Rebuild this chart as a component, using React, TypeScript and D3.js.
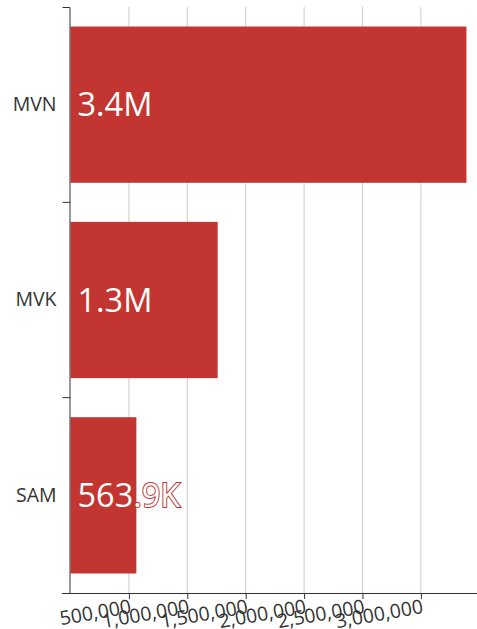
import React, { useEffect, useRef } from "react";
import * as d3 from "d3";

const categories = ["MVN", "MVK", "SAM"];
const values = [3390000, 1260000, 563900];
const xTicks = [500000, 1000000, 1500000, 2000000, 2500000, 3000000];

const BAR = "#c23531";
const INK = "#333";
const FONT = "'Open Sans', 'Noto Sans', sans-serif";

const fmtLabel = (v: number) =>
  v >= 1e6 ? (v / 1e6).toFixed(1) + "M" : (v / 1e3).toFixed(1) + "K";

export default function App() {
  const node = useRef<SVGSVGElement>(null);

  useEffect(() => {
    const svg = d3.select(node.current);
    svg.selectAll("*").remove();

    const left = 70.5, top = 7, bottom = 593;
    const x = d3.scaleLinear().domain([0, 3500000]).range([left, left + 3.5 * 116.8]);
    const y = d3.scaleBand().domain(categories).range([top, bottom]).paddingInner(0.2).paddingOuter(0.1);

    // grid
    svg.append("g")
      .selectAll("line")
      .data(xTicks)
      .join("line")
      .attr("x1", d => x(d)).attr("x2", d => x(d))
      .attr("y1", top).attr("y2", bottom)
      .attr("stroke", "#ccc").attr("stroke-width", 1);

    // bars
    svg.append("g")
      .selectAll("rect")
      .data(categories)
      .join("rect")
      .attr("x", x(0))
      .attr("y", d => y(d)!)
      .attr("width", (d, i) => x(values[i]) - x(0))
      .attr("height", y.bandwidth())
      .attr("fill", BAR);

    // bar labels
    svg.append("g")
      .selectAll("text")
      .data(categories)
      .join("text")
      .attr("x", x(0) + 7)
      .attr("y", d => y(d)! + y.bandwidth() / 2)
      .attr("dy", "0.36em")
      .attr("font-family", FONT)
      .attr("font-size", 32.5)
      .attr("fill", "#fff")
      .attr("stroke", BAR)
      .attr("stroke-width", 2)
      .attr("paint-order", "stroke")
      .text((d, i) => fmtLabel(values[i]));

    // x axis
    const xAxis = d3.axisBottom(x).tickValues(xTicks).tickSize(6).tickSizeOuter(0).tickFormat(d3.format(","));
    const xg = svg.append("g").attr("transform", `translate(0,${bottom})`).call(xAxis);
    xg.select(".domain").attr("stroke", INK).attr("d", `M${left - 8.5},0.5H${left + 420}`);
    xg.selectAll(".tick line").attr("stroke", INK);
    xg.selectAll(".tick text")
      .attr("font-family", FONT)
      .attr("font-size", 19.5)
      .attr("fill", INK)
      .attr("text-anchor", "end")
      .attr("x", -1).attr("y", 20).attr("dy", 0)
      .attr("transform", "rotate(-10)");

    // y axis
    const yAxis = d3.axisLeft(y).tickSize(0).tickPadding(14);
    const yg = svg.append("g").attr("transform", `translate(${left},0)`).call(yAxis);
    yg.select(".domain").attr("stroke", INK).attr("d", `M-8,${top + 0.5}H-0.5V${bottom}`);
    yg.selectAll(".tick text").attr("font-family", FONT).attr("font-size", 19.5).attr("fill", INK);
    yg.append("g")
      .selectAll("line")
      .data(categories.slice(1))
      .join("line")
      .attr("x1", -8).attr("x2", 0)
      .attr("y1", d => y(d)! - (y.step() * y.paddingInner()) / 2)
      .attr("y2", d => y(d)! - (y.step() * y.paddingInner()) / 2)
      .attr("stroke", INK);
  }, []);

  return (
    <svg
      ref={node}
      width={477}
      height={629}
      style={{ position: "absolute", left: 0, top: 0 }}
    />
  );
}
